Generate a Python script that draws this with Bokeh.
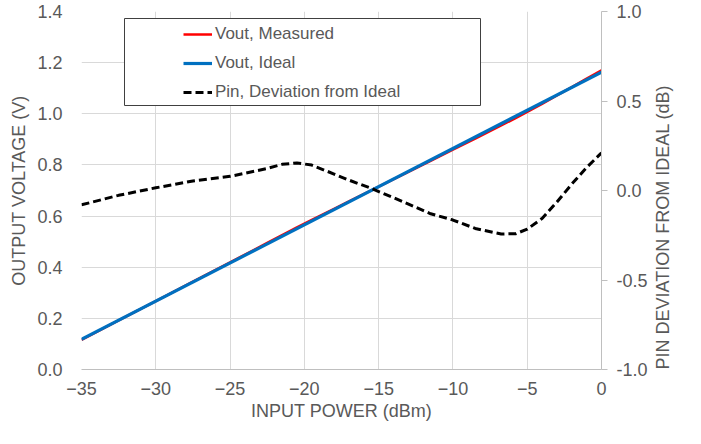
import math
from bokeh.plotting import figure
from bokeh.models import (Range1d, LinearAxis, FixedTicker, NumeralTickFormatter,
                          Legend, LegendItem, BoxAnnotation)
from bokeh.embed import file_html
from bokeh.resources import INLINE

# ---- data ----
x_power = [-35, -32.5, -30, -27.5, -25, -22.5, -21.5, -20.5, -19.5, -18, -17,
           -15.5, -13.5, -11.5, -10, -8.5, -6.75, -5.75, -5, -4, -3, -2, -1, 0]
vout_measured = [0.1156, 0.1919, 0.2678, 0.3436, 0.4190, 0.4950, 0.5255, 0.5556,
                 0.5851, 0.6284, 0.6572, 0.7007, 0.7583, 0.8158, 0.8595, 0.9029,
                 0.9543, 0.9842, 1.0073, 1.0390, 1.0717, 1.1045, 1.1372, 1.1694]
x_ideal = [-35, 0]
vout_ideal = [0.118, 1.163]
pin_deviation = [-0.08, -0.027, 0.015, 0.053, 0.079, 0.123, 0.146, 0.154, 0.142,
                 0.092, 0.058, 0.012, -0.058, -0.13, -0.165, -0.212, -0.243,
                 -0.241, -0.216, -0.156, -0.064, 0.036, 0.129, 0.21]
x_ticks = [-35, -30, -25, -20, -15, -10, -5, 0]
left_ticks = [0.0, 0.2, 0.4, 0.6, 0.8, 1.0, 1.2, 1.4]
right_ticks = [-1.0, -0.5, 0.0, 0.5, 1.0]
labels = ["Vout, Measured", "Vout, Ideal", "Pin, Deviation from Ideal"]

FONT = "Liberation Sans"
TXT = "#595959"
GRID = "#d9d9d9"
AXIS = "#bfbfbf"

W, H = 685, 428
MB_L, MB_R, MB_T, MB_B = 81, 70, 11, 59
FH = H - MB_T - MB_B

p = figure(width=W, height=H, output_backend="svg", toolbar_location=None,
           x_range=Range1d(-35, 0), y_range=Range1d(0, 1.4),
           min_border_left=MB_L, min_border_right=MB_R, min_border_top=MB_T,
           min_border_bottom=MB_B, background_fill_color="white",
           border_fill_color="white", outline_line_color=None)
p.extra_y_ranges = {"dev": Range1d(-1, 1)}

r_meas = p.line(x_power, vout_measured, line_color="#ff0000", line_width=2.5)
r_ideal = p.line(x_ideal, vout_ideal, line_color="#0070c0", line_width=3.2)
r_dev = p.line(x_power, pin_deviation, line_color="black", line_width=3,
               line_dash="8 4", y_range_name="dev")

# axes
xa = p.xaxis[0]
xa.ticker = FixedTicker(ticks=x_ticks)
xa.axis_label = "INPUT POWER (dBm)"
ya = p.yaxis[0]
ya.ticker = FixedTicker(ticks=left_ticks)
ya.formatter = NumeralTickFormatter(format="0.0")
ya.axis_label = "OUTPUT VOLTAGE (V)"

ra = LinearAxis(y_range_name="dev", ticker=FixedTicker(ticks=right_ticks),
                formatter=NumeralTickFormatter(format="0.0"),
                axis_label="PIN DEVIATION FROM IDEAL (dB)")
props = ra.properties()
rotated = "axis_label_orientation" in props and "axis_label_align" in props
if rotated:
    ra.axis_label_orientation = math.pi / 2
    ra.axis_label_align = "start"
p.add_layout(ra, "right")

for ax in (xa, ya, ra):
    ax.major_label_text_font = FONT
    ax.major_label_text_font_size = "18px"
    ax.major_label_text_color = TXT
    ax.axis_label_text_font = FONT
    ax.axis_label_text_font_size = "18px"
    ax.axis_label_text_font_style = "normal"
    ax.axis_label_text_color = TXT
    ax.minor_tick_line_color = None
    ax.major_tick_in = 0

xa.major_tick_out = 0
xa.major_label_standoff = 12
xa.axis_label_standoff = 3
xa.axis_line_color = AXIS

ya.major_tick_out = 0
ya.major_label_standoff = 19
ya.axis_label_standoff = 5
ya.axis_line_color = None

ra.major_tick_out = 6
ra.major_tick_line_color = AXIS
ra.major_label_standoff = 9
ra.axis_label_standoff = 12 if rotated else 2
ra.axis_line_color = AXIS

p.xgrid.grid_line_color = GRID
p.ygrid.grid_line_color = GRID
p.xgrid.ticker = FixedTicker(ticks=x_ticks)
p.ygrid.ticker = FixedTicker(ticks=left_ticks)

# legend frame
box = BoxAnnotation(left=43, right=399, top=FH - 7, bottom=FH - 94,
                    left_units="screen", right_units="screen",
                    top_units="screen", bottom_units="screen",
                    fill_color="white", fill_alpha=1.0,
                    line_color="#404040", line_width=1, line_alpha=1.0)
p.add_layout(box)

legend = Legend(items=[LegendItem(label=labels[0], renderers=[r_meas]),
                       LegendItem(label=labels[1], renderers=[r_ideal]),
                       LegendItem(label=labels[2], renderers=[r_dev])],
                location=(102, FH - 91), padding=5, spacing=9,
                glyph_width=29, glyph_height=20, label_height=20,
                label_standoff=3, label_text_font=FONT,
                label_text_font_size="17px", label_text_color=TXT,
                border_line_color=None, background_fill_alpha=0)
p.add_layout(legend)

open("out.html", "w").write(file_html(p, INLINE))
